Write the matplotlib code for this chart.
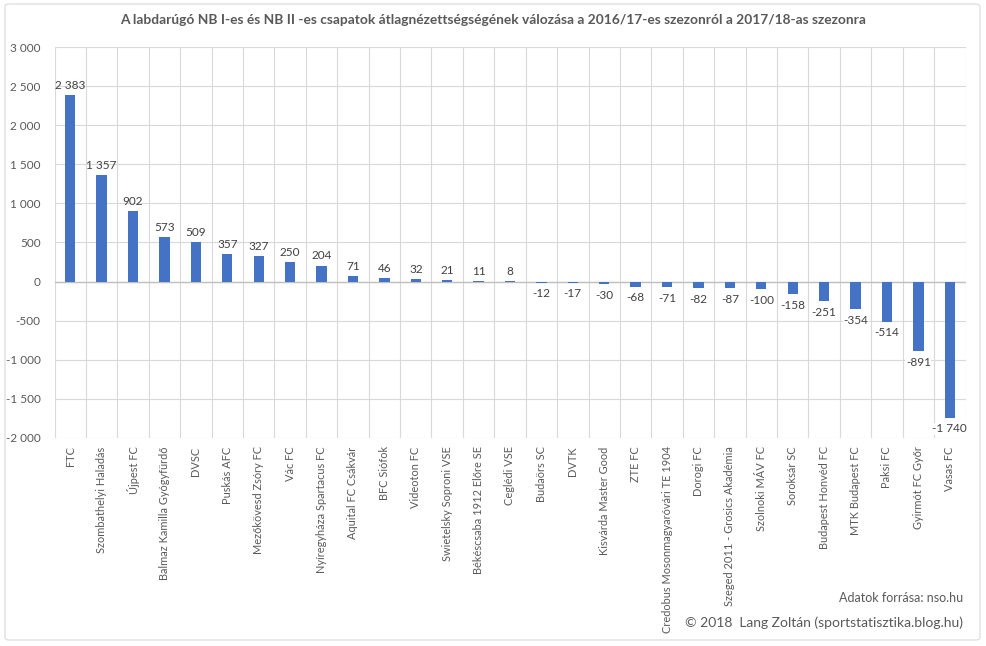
import matplotlib.pyplot as plt
from matplotlib.patches import FancyBboxPatch

plt.rcParams['font.family'] = ['Lato', 'DejaVu Sans']

# csapatok és az átlagnézettség változása
csapatok = ['FTC', 'Szombathelyi Haladás', 'Újpest FC', 'Balmaz Kamilla Gyógyfürdő', 'DVSC',
            'Puskás AFC', 'Mezőkövesd Zsóry FC', 'Vác FC', 'Nyíregyháza Spartacus FC',
            'Aquital FC Csákvár', 'BFC Siófok', 'Videoton FC', 'Swietelsky Soproni VSE',
            'Békéscsaba 1912 Előre SE', 'Ceglédi VSE', 'Budaörs SC', 'DVTK',
            'Kisvárda Master Good', 'ZTE FC', 'Credobus Mosonmagyaróvári TE 1904', 'Dorogi FC',
            'Szeged 2011 - Grosics Akadémia', 'Szolnoki MÁV FC', 'Soroksár SC',
            'Budapest Honvéd FC', 'MTK Budapest FC', 'Paksi FC', 'Gyirmót FC Győr', 'Vasas FC']
valtozas = [2383, 1357, 902, 573, 509, 357, 327, 250, 204, 71, 46, 32, 21, 11, 8,
            -12, -17, -30, -68, -71, -82, -87, -100, -158, -251, -354, -514, -891, -1740]
y_ticks = [-2000, -1500, -1000, -500, 0, 500, 1000, 1500, 2000, 2500, 3000]

def fmt(v):
    s = f'{abs(v):,}'.replace(',', ' ')
    return ('-' if v < 0 else '') + s

fig = plt.figure(figsize=(9.86, 6.46), dpi=100)
ax = fig.add_axes([54.5 / 986, 1 - 438 / 646, 911 / 986, 391 / 646])

n = len(csapatok)
x = list(range(n))
ax.bar(x, valtozas, width=0.33, color='#4472C4', zorder=3)

ax.set_xlim(-0.5, n - 0.5)
ax.set_ylim(-2000, 3000)
ax.set_yticks(y_ticks)
ax.set_yticklabels([fmt(v) for v in y_ticks], fontsize=8.5, color='#595959')
ax.tick_params(axis='y', length=0, pad=10)
ax.set_xticks([])

# rácsvonalak
for v in y_ticks:
    ax.axhline(v, color='#D9D9D9', lw=0.8, zorder=1)
for i in range(n + 1):
    ax.axvline(i - 0.5, color='#D9D9D9', lw=0.8, zorder=1)
ax.axhline(0, color='#BFBFBF', lw=1.0, zorder=2)
for s in ax.spines.values():
    s.set_visible(False)

# értékfeliratok
for i, v in enumerate(valtozas):
    if v >= 0:
        ax.annotate(fmt(v), (i, v), xytext=(0, 3), textcoords='offset points',
                    ha='center', va='bottom', fontsize=8.5, color='#404040', zorder=4)
    else:
        ax.annotate(fmt(v), (i, v), xytext=(0, -4), textcoords='offset points',
                    ha='center', va='top', fontsize=8.5, color='#404040', zorder=4,
                    bbox=dict(boxstyle='square,pad=0.05', fc='white', ec='none'))

# kategóriafeliratok alul
for i, c in enumerate(csapatok):
    ax.annotate(c, (i, -2000), xytext=(0, -6), textcoords='offset points', rotation=90,
                ha='center', va='top', fontsize=7.9, color='#595959', annotation_clip=False)

fig.text(0.5, 1 - 20 / 646, 'A labdarúgó NB I-es és NB II -es csapatok átlagnézettségségének válozása a 2016/17-es szezonról a 2017/18-as szezonra',
         ha='center', va='center', fontsize=9.9, fontweight='bold', color='#595959')
fig.text(963 / 986, 1 - 598 / 646, 'Adatok forrása: nso.hu', ha='right', va='center',
         fontsize=9, color='#595959')
fig.text(963 / 986, 1 - 623 / 646, '© 2018  Lang Zoltán (sportstatisztika.blog.hu)', ha='right', va='center',
         fontsize=10, color='#595959')

# keret
fig.patches.append(FancyBboxPatch((5 / 986, 6 / 646), 975 / 986, 636 / 646,
                                  boxstyle='round,pad=0,rounding_size=0.004',
                                  transform=fig.transFigure, fc='none', ec='#D9D9D9', lw=0.8))

fig.savefig('out.png', dpi=100, facecolor='white')
